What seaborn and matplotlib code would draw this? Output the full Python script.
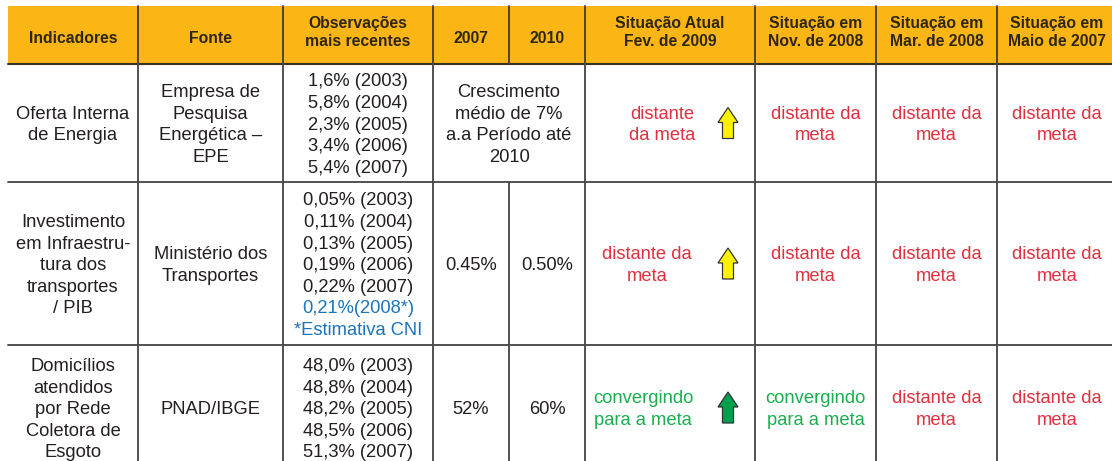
import matplotlib
matplotlib.use("Agg")
import matplotlib.pyplot as plt
from matplotlib.patches import Rectangle, Polygon
import seaborn as sns

# -----------------------------
# Table content
# -----------------------------
headers = ["Indicadores", "Fonte", "Observações\nmais recentes", "2007", "2010",
           "Situação Atual\nFev. de 2009", "Situação em\nNov. de 2008",
           "Situação em\nMar. de 2008", "Situação em\nMaio de 2007"]

indicadores = ["Oferta Interna\nde Energia",
               "Investimento\nem Infraestru-\ntura dos\ntransportes\n/ PIB",
               "Domicílios\natendidos\npor Rede\nColetora de\nEsgoto"]
fontes = ["Empresa de\nPesquisa\nEnergética –\nEPE", "Ministério dos\nTransportes", "PNAD/IBGE"]
observacoes = [
    ["1,6% (2003)", "5,8% (2004)", "2,3% (2005)", "3,4% (2006)", "5,4% (2007)"],
    ["0,05% (2003)", "0,11% (2004)", "0,13% (2005)", "0,19% (2006)", "0,22% (2007)",
     "0,21%(2008*)", "*Estimativa CNI"],
    ["48,0% (2003)", "48,8% (2004)", "48,2% (2005)", "48,5% (2006)", "51,3% (2007)"],
]
obs_estimadas = [0, 2, 0]  # trailing lines that are CNI estimates (blue)
meta_2007 = [None, "0.45%", "52%"]
meta_2010 = [None, "0.50%", "60%"]
meta_conjunta = ["Crescimento\nmédio de 7%\na.a Período até\n2010", None, None]
situacao_fev09 = ["distante\nda meta", "distante da\nmeta", "convergindo\npara a meta"]
tendencia = ["yellow", "yellow", "green"]
situacao_nov08 = ["distante da\nmeta", "distante da\nmeta", "convergindo\npara a meta"]
situacao_mar08 = ["distante da\nmeta", "distante da\nmeta", "distante da\nmeta"]
situacao_mai07 = ["distante da\nmeta", "distante da\nmeta", "distante da\nmeta"]

# -----------------------------
# Layout (pixels) and style
# -----------------------------
col_edges = [8, 138, 283, 433, 509, 585, 755, 876, 997, 1117]
row_edges = [6, 64, 182, 345, 470]
status_cx = [662, 647, 643]     # text centre in "Situação Atual" (arrow to its right)
STEP = 21.6
FS = 13.2
FS_HEAD = 11.3

HEADER_BG = "#FBB616"
HEAD_TXT = "#2e2614"
TXT = "#231F20"
RED = "#E1303F"
GREEN = "#1BAE4F"
BLUE = "#1C74BC"
LINE = "#4a4a4a"
ARROW_FILL = {"yellow": "#FFF200", "green": "#00A04E"}

sns.set_style("white")
plt.rcParams["font.family"] = ["Liberation Sans", "DejaVu Sans"]

fig = plt.figure(figsize=(11.12, 4.61), dpi=100)
ax = fig.add_axes([0, 0, 1, 1])
ax.set_xlim(0, 1112)
ax.set_ylim(461, 0)
ax.axis("off")


def lines_text(xc, yc, lines, colors, ha="center", fs=FS, step=STEP, **kw):
    n = len(lines)
    off = 0.36 * fs * 100 / 72
    for i, (t, c) in enumerate(zip(lines, colors)):
        y = yc + (i - (n - 1) / 2) * step
        ax.text(xc, y + off, t, ha=ha, va="baseline", color=c, fontsize=fs, **kw)


def up_arrow(xc, yc, color):
    h, hw, sw, hh = 31, 20, 11, 15
    top = yc - h / 2
    pts = [(xc, top), (xc + hw / 2, top + hh), (xc + sw / 2, top + hh),
           (xc + sw / 2, top + h), (xc - sw / 2, top + h), (xc - sw / 2, top + hh),
           (xc - hw / 2, top + hh)]
    ax.add_patch(Polygon(pts, closed=True, facecolor=ARROW_FILL[color],
                         edgecolor="#333333", linewidth=0.9, zorder=3))


cx = [(a + b) / 2 for a, b in zip(col_edges[:-1], col_edges[1:])]
cy = [(a + b) / 2 for a, b in zip(row_edges[:-1], row_edges[1:])]

# header band
ax.add_patch(Rectangle((col_edges[0], row_edges[0]), col_edges[-1] - col_edges[0],
                       row_edges[1] - row_edges[0], facecolor=HEADER_BG, edgecolor="none"))
for j, h in enumerate(headers):
    parts = h.split("\n")
    yc = 37 if len(parts) == 1 else 31.5
    lines_text(cx[j], yc, parts, [HEAD_TXT] * len(parts), fs=FS_HEAD, step=18.5,
               fontweight="bold")

# grid lines
ax.plot([col_edges[0], col_edges[-1]], [row_edges[1]] * 2, color="#3a3226", lw=1.5)
for y in row_edges[2:-1]:
    ax.plot([col_edges[0], col_edges[-1]], [y, y], color=LINE, lw=1.35)
for j, x in enumerate(col_edges[1:-1], start=1):
    ax.plot([x, x], [row_edges[0], row_edges[1]], color="#4b3f2a", lw=1.35)
    for r in range(3):
        if j == 4 and meta_conjunta[r] is not None:
            continue
        ax.plot([x, x], [row_edges[r + 1], row_edges[r + 2]], color=LINE, lw=1.35)

# body
for r in range(3):
    y = cy[r + 1]
    for j, txt in enumerate([indicadores[r], fontes[r]]):
        parts = txt.split("\n")
        lines_text(cx[j], y, parts, [TXT] * len(parts))
    obs = observacoes[r]
    cols = [TXT] * (len(obs) - obs_estimadas[r]) + [BLUE] * obs_estimadas[r]
    lines_text(cx[2], y, obs, cols)
    if meta_conjunta[r] is not None:
        parts = meta_conjunta[r].split("\n")
        lines_text((col_edges[3] + col_edges[5]) / 2, y, parts, [TXT] * len(parts))
    else:
        lines_text(cx[3], y, [meta_2007[r]], [TXT])
        lines_text(cx[4], y, [meta_2010[r]], [TXT])

    # current situation + trend arrow
    parts = situacao_fev09[r].split("\n")
    col = GREEN if parts[0].startswith("conv") else RED
    lines_text(status_cx[r], y, parts, [col] * len(parts))
    up_arrow(col_edges[6] - 27, y, tendencia[r])

    for j, lst in zip([6, 7, 8], [situacao_nov08, situacao_mar08, situacao_mai07]):
        parts = lst[r].split("\n")
        col = GREEN if parts[0].startswith("conv") else RED
        lines_text(cx[j], y, parts, [col] * len(parts))

fig.savefig("out.png", dpi=100, facecolor="white")
